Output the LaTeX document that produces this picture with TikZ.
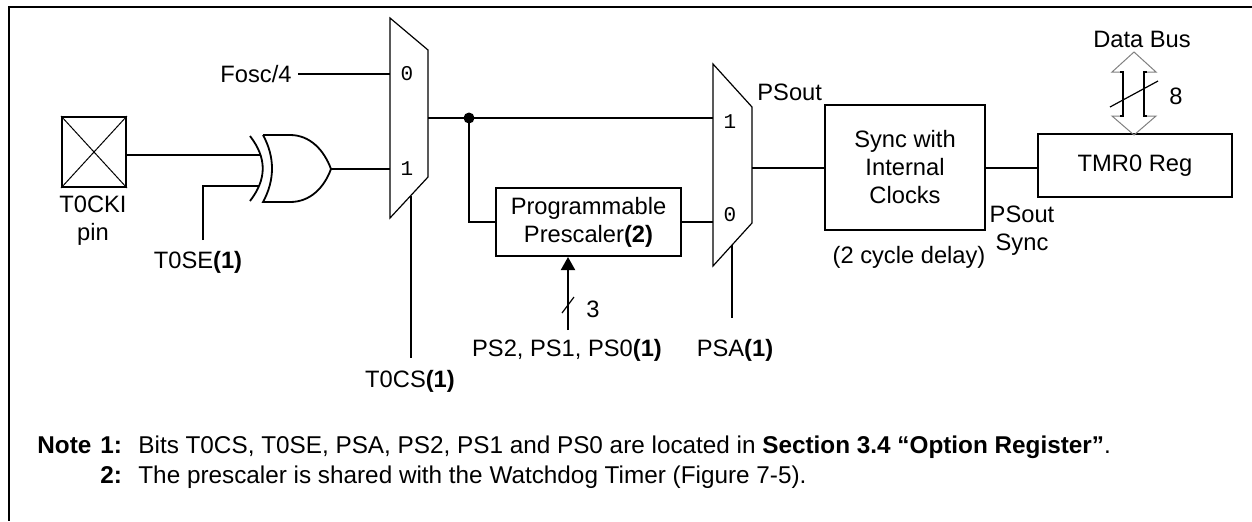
\documentclass[tikz,border=0pt]{standalone}
\usepackage{fontspec}
\setmainfont{Liberation Sans}
\newfontfamily\pinfont{Liberation Mono}
\usetikzlibrary{arrows.meta}
\begin{document}
\begin{tikzpicture}[x=0.5pt,y=-0.5pt,
  wire/.style={line width=1pt},
  box/.style={draw,line width=1pt,inner sep=0pt},
  lbl/.style={font=\fontsize{11.85}{14}\selectfont,inner sep=0pt,align=center},
  notelbl/.style={font=\fontsize{12.15}{14}\selectfont,inner sep=0pt},
  pinlbl/.style={font=\pinfont\fontsize{10.5}{12}\selectfont,inner sep=0pt},
  muxshape/.style={draw,line width=0.6pt},
  gate/.style={draw,line width=0.9pt}]
\useasboundingbox (0,0) rectangle (1252,521);
% frame
\draw[line width=1pt] (1252,7) -- (9,7) -- (9,521);

% T0CKI pin
\node[box,minimum width=32pt,minimum height=35pt] (pinbox) at (94,152) {};
\draw[line width=0.5pt] (pinbox.north west) -- (pinbox.south east)
  (pinbox.north east) -- (pinbox.south west);
\node[lbl] (pinlab) at (93,221) {T0CKI\\pin};

% XOR gate
\draw[gate] (263,135) -- (290,135) .. controls (310,135) and (324,150) .. (331,169)
  .. controls (324,188) and (310,202) .. (290,202) -- (263,202)
  .. controls (275,180) and (275,157) .. (263,135);
\draw[gate] (250,136) .. controls (267,158) and (267,179) .. (250,201);
\coordinate (xorA) at (261,155);
\coordinate (xorB) at (259,186);
\coordinate (xorOut) at (331,169);
\coordinate (t0seEnd) at (203,240);
\node[lbl] (t0se) at (198,262) {T0SE\textbf{(1)}};
\draw[wire] (pinbox.east |- xorA) -- (xorA);
\draw[wire] (t0seEnd) |- (xorB);

% MUX 1
\draw[muxshape] (390,18) -- (428,50) -- (428,177) -- (390,218) -- cycle;
\coordinate (m1in0) at (390,74);
\coordinate (m1in1) at (390,169);
\coordinate (m1out) at (428,118);
\coordinate (m1sel) at (411,196);
\coordinate (t0csEnd) at (411,358);
\node[pinlbl] (m1zero) at (407,74) {0};
\node[pinlbl] (m1one) at (407,169) {1};
\node[lbl,anchor=east] (fosc) at (292,74) {Fosc/4};
\draw[wire] ([xshift=3pt]fosc.east) -- (m1in0);
\draw[wire] (xorOut) -- (m1in1);
\draw[wire] (m1sel) -- (t0csEnd);
\node[lbl] (t0cs) at (410,381) {T0CS\textbf{(1)}};

% junction and prescaler
\coordinate (jn) at (469,118);
\node[box,minimum width=92.5pt,minimum height=34pt] (pre) at (588.5,222) {};
\node[lbl] (pretext) at (588.5,222) {Programmable\\Prescaler\textbf{(2)}};

% MUX 2
\draw[muxshape] (713,64) -- (752,107) -- (752,223) -- (713,266) -- cycle;
\coordinate (m2in1) at (713,118);
\coordinate (m2in0) at (713,222);
\coordinate (m2out) at (752,168);
\coordinate (m2sel) at (732,245);
\coordinate (psaEnd) at (732,318);
\node[pinlbl] (m2one) at (730,122) {1};
\node[pinlbl] (m2zero) at (730,215) {0};
\node[lbl,anchor=west] (psout) at (757,92) {PSout};
\node[lbl] (psa) at (735,350) {PSA\textbf{(1)}};

\draw[wire] (m1out) -- (m2in1);
\fill (jn) circle (5.5);
\draw[wire] (jn) |- (pre.west);
\draw[wire] (pre.east) -- (m2in0);
\draw[wire] (m2sel) -- (psaEnd);

% PS bits arrow
\coordinate (psb) at (568,330);
\node[lbl] (pslab) at (567,350) {PS2, PS1, PS0\textbf{(1)}};
\draw[wire,-{Triangle[length=6.5pt,width=7pt]}] (psb) -- (psb |- pre.south);
\draw[line width=0.6pt] (562,313) -- (574,297);
\node[lbl] (three) at (593,309) {3};

% Sync box
\node[box,minimum width=80pt,minimum height=62.5pt] (sync) at (905,167.5) {};
\node[lbl] (synctext) at (905,167.5) {Sync with\\Internal\\Clocks};
\node[lbl] (delay) at (909,257) {(2 cycle delay)};
\draw[wire] (m2out) -- (sync.west |- m2out);

% TMR0
\node[box,minimum width=97pt,minimum height=31.5pt] (tmr) at (1135,165.5) {};
\node[lbl] (tmrtext) at (1135,166) {TMR0 Reg};
\draw[wire] (sync.east |- m2out) -- (tmr.west |- m2out);
\node[lbl] (pssync) at (1022,231) {PSout\\Sync};

% Data bus
\node[lbl] (dbus) at (1142,39) {Data Bus};
\draw[line width=0.5pt,draw=black!50] (1134,52) -- (1156,72) -- (1144,72) -- (1144,116)
  -- (1156,116) -- (1134,135) -- (1112,116) -- (1123,116) -- (1123,72) -- (1112,72) -- cycle;
\draw[line width=0.8pt] (1120,72) -- (1123,72) -- (1123,116) -- (1120,116)
  (1147,72) -- (1144,72) -- (1144,116) -- (1147,116);
\draw[line width=0.6pt] (1110,107) -- (1158,81);
\node[lbl] (eight) at (1176,96) {8};

% Notes
\node[notelbl,anchor=base west] (note) at (37,453) {\textbf{Note}};
\node[notelbl,anchor=base west] (n1) at (100,453) {\textbf{1:}};
\node[notelbl,anchor=base west] (n1t) at (138,453) {Bits T0CS, T0SE, PSA, PS2, PS1 and PS0 are located in \textbf{Section 3.4 “Option Register”}.};
\node[notelbl,anchor=base west] (n2) at (100,483) {\textbf{2:}};
\node[notelbl,anchor=base west] (n2t) at (138,483) {The prescaler is shared with the Watchdog Timer (Figure 7-5).};
\end{tikzpicture}
\end{document}
